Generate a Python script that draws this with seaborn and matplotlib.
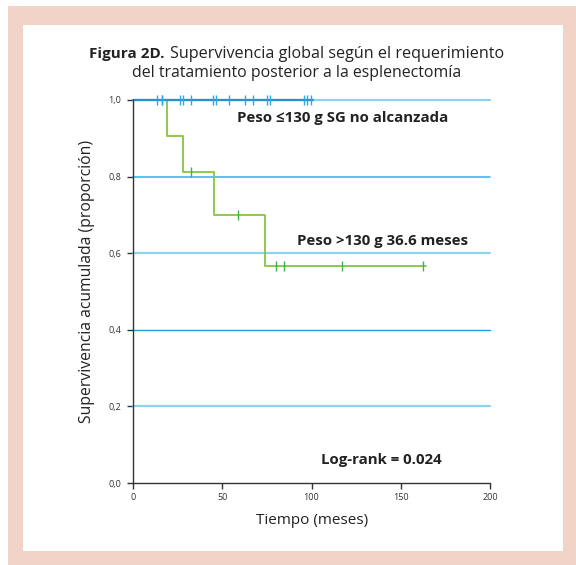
import matplotlib
matplotlib.use("Agg")
import matplotlib.pyplot as plt
from matplotlib.patches import Rectangle
import seaborn as sns
import pandas as pd

# ---- data ----
low_times = [0, 101]
low_surv = [1.0, 1.0]
low_censor = [13.3, 16.1, 26.3, 28.2, 32.3, 45.0, 46.5, 53.6, 62.6, 67.1, 74.9, 76.8, 95.8, 97.7, 99.9]

high_times = [0, 18.9, 28.2, 45.6, 74.1, 164]
high_surv = [1.0, 0.905, 0.811, 0.700, 0.567, 0.567]
high_censor = [16.0, 32.3, 58.6, 80.1, 84.6, 117.3, 162.6]

yticks = [0.0, 0.2, 0.4, 0.6, 0.8, 1.0]
xticks = [0, 50, 100, 150, 200]

sns.set_theme(style="white")
plt.rcParams['font.family'] = ['Open Sans', 'DejaVu Sans']

W, H = 576, 565
fig = plt.figure(figsize=(W / 100, H / 100), dpi=100)
fig.patch.set_facecolor("white")

def fx(px):
    return px / W

def fy(py):
    return 1 - py / H

pink = "#f2d3c7"
fig.patches.append(Rectangle((fx(8), fy(565)), fx(568), 559 / H, transform=fig.transFigure,
                             facecolor=pink, edgecolor="none", zorder=-2))
fig.patches.append(Rectangle((fx(23), fy(551)), fx(540), 526 / H, transform=fig.transFigure,
                             facecolor="white", edgecolor="none", zorder=-1))

ax = fig.add_axes([fx(133), fy(483), fx(357), 383 / H])
ax.set_facecolor("none")

# gridlines
grid_styles = {0.2: ("#8dd3f0", 1.6), 0.4: ("#1f9bd7", 1.0), 0.6: ("#8dd3f0", 1.6),
               0.8: ("#2bb3ec", 1.1), 1.0: ("#8dd3f0", 1.6)}
for yv in yticks[1:]:
    c, lw = grid_styles[yv]
    ax.axhline(yv, color=c, lw=lw, zorder=1, clip_on=False)

df_high = pd.DataFrame({"t": high_times, "s": high_surv})
df_low = pd.DataFrame({"t": low_times, "s": low_surv})
sns.lineplot(data=df_high, x="t", y="s", drawstyle="steps-post", color="#86c440",
             lw=1.3, sort=False, estimator=None, ax=ax, zorder=3, clip_on=False)
sns.lineplot(data=df_low, x="t", y="s", drawstyle="steps-post", color="#2b8fd0",
             lw=1.6, sort=False, estimator=None, ax=ax, zorder=3, clip_on=False)

def surv_at(times, surv, t):
    v = surv[0]
    for ti, si in zip(times, surv):
        if ti <= t:
            v = si
    return v

hc = pd.DataFrame({"t": high_censor, "s": [surv_at(high_times, high_surv, t) for t in high_censor]})
lc = pd.DataFrame({"t": low_censor, "s": [surv_at(low_times, low_surv, t) for t in low_censor]})
sns.scatterplot(data=hc, x="t", y="s", marker="|", s=60, linewidth=1.0, color="#3bb54a",
                ax=ax, zorder=4, clip_on=False)
sns.scatterplot(data=lc, x="t", y="s", marker="|", s=60, linewidth=1.0, color="#29abe2",
                ax=ax, zorder=4, clip_on=False)

ax.set_xlim(0, 200)
ax.set_ylim(0, 1.0)
ax.set_xticks(xticks)
ax.set_xticklabels([str(x) for x in xticks])
ax.set_yticks(yticks)
ax.set_yticklabels([f"{y:.1f}".replace(".", ",") for y in yticks])
ax.tick_params(axis="both", which="both", direction="out", length=4.2, width=1.0,
               color="#333333", labelsize=6.5, labelcolor="#333333",
               left=True, bottom=True)
ax.tick_params(axis="x", pad=3.2)
ax.tick_params(axis="y", pad=4.5)
for side in ["top", "right"]:
    ax.spines[side].set_visible(False)
for side in ["left", "bottom"]:
    ax.spines[side].set_color("#333333")
    ax.spines[side].set_linewidth(1.0)
    ax.spines[side].set_zorder(5)
ax.set_xlabel("")
ax.set_ylabel("")

# axis labels
fig.text(fx(87), fy(281), "Supervivencia acumulada (proporción)", rotation=90,
         ha="center", va="center", fontsize=11.3, color="#222222")
fig.text(fx(312), fy(521), "Tiempo (meses)", ha="center", va="center",
         fontsize=11, color="#222222")

# title
renderer = fig.canvas.get_renderer()
tb = fig.text(fx(89), fy(54), "Figura 2D.", ha="left", va="center", fontsize=11,
              fontweight="bold", color="#222222")
bb = tb.get_window_extent(renderer)
fig.text((bb.x1 + 5) / W, fy(54), "Supervivencia global según el requerimiento", ha="left",
         va="center", fontsize=11.6, color="#222222")
fig.text(fx(297), fy(73), "del tratamiento posterior a la esplenectomía", ha="center",
         va="center", fontsize=11.4, color="#222222")

# annotations
fig.text(fx(237), fy(118), "Peso ≤130 g SG no alcanzada", ha="left", va="center",
         fontsize=10.8, fontweight="bold", color="#222222")
fig.text(fx(297), fy(241), "Peso >130 g 36.6 meses", ha="left", va="center",
         fontsize=10.8, fontweight="bold", color="#222222")
fig.text(fx(321), fy(460), "Log-rank = 0.024", ha="left", va="center",
         fontsize=10.8, fontweight="bold", color="#222222")

fig.savefig("out.png", dpi=100)
